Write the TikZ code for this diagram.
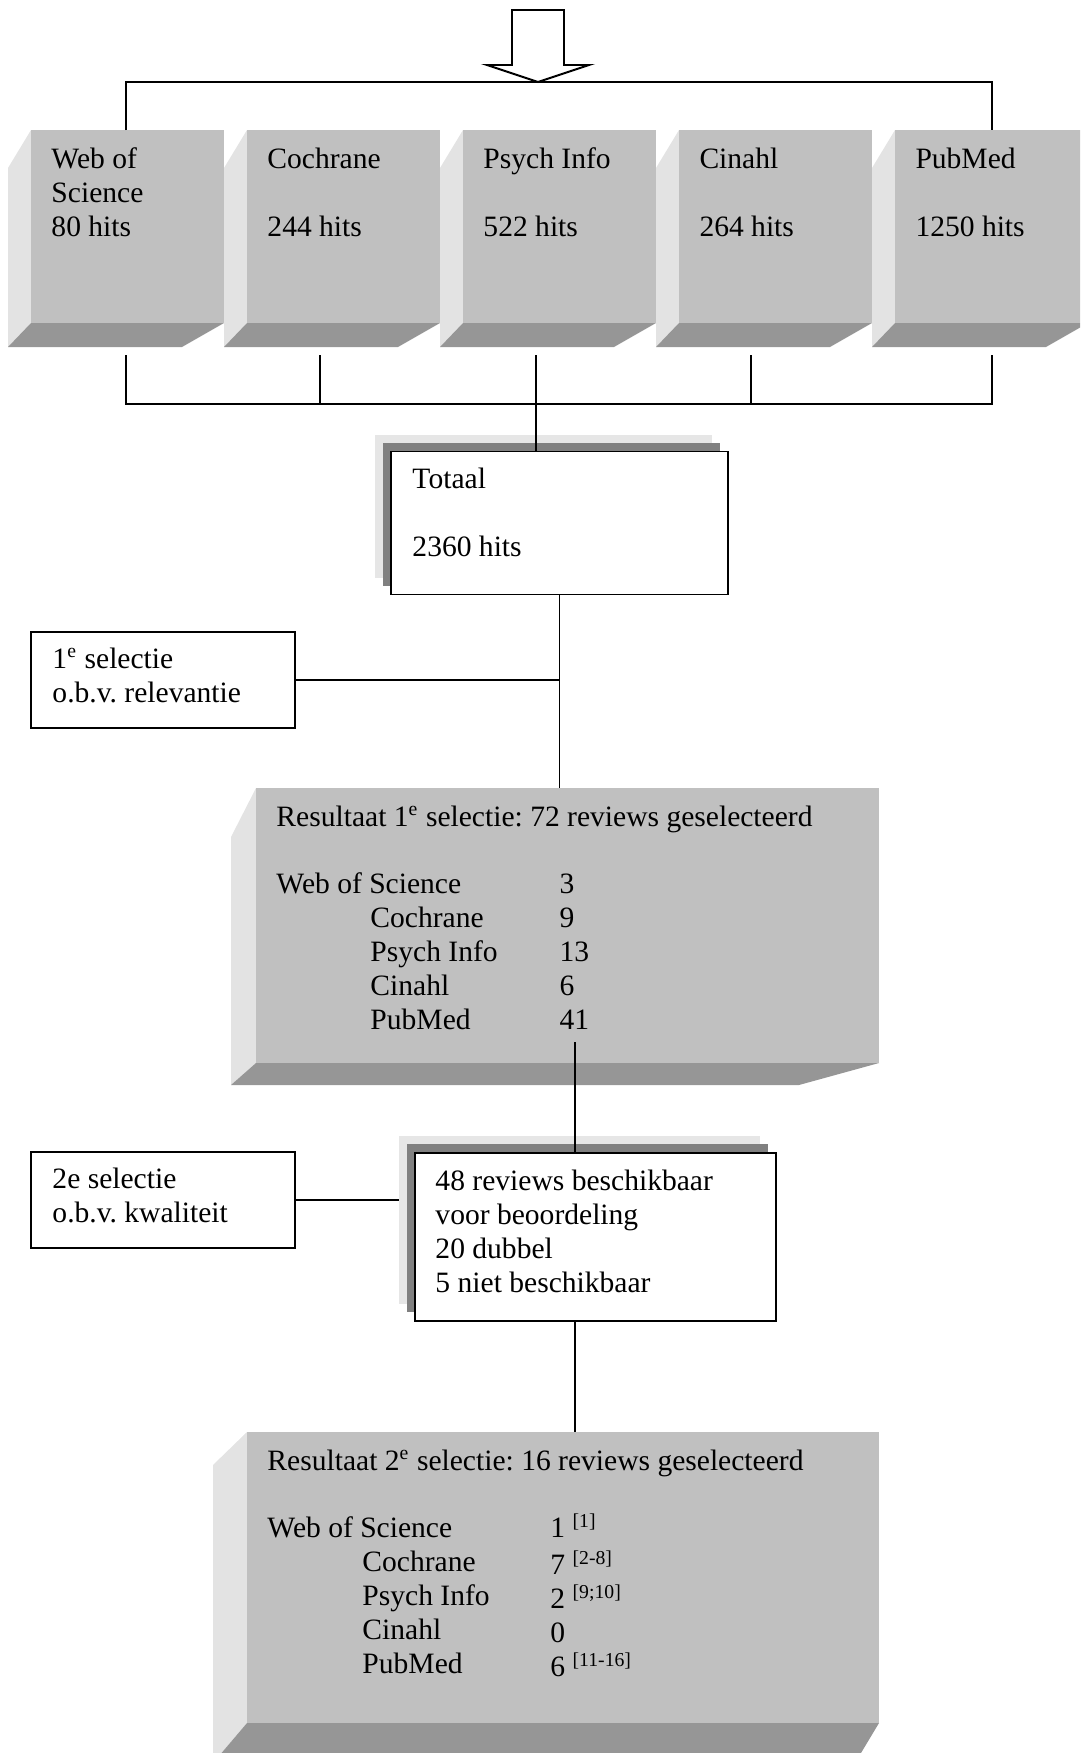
\documentclass[tikz,border=0pt]{standalone}
\usepackage{fontspec}
\setmainfont{Liberation Serif}
\usepackage{tikz}
\frenchspacing
\definecolor{frontgray}{RGB}{192,192,192}
\definecolor{sidegray}{RGB}{227,227,227}
\definecolor{basegray}{RGB}{150,150,150}
\definecolor{shadelight}{RGB}{230,230,230}
\definecolor{shadedark}{RGB}{128,128,128}
\def\px{0.406pt}
\def\tfront{rectangle ++(193,193)}
\def\tleft{-- ++(-23,38) -- ++(0,179) -- ++(23,-24) -- cycle}
\def\tbottom{-- ++(193,0) -- ++(-42,24) -- ++(-174,0) -- cycle}
\def\blockarrow{-- ++(-51,-17) -- ++(25,0) -- ++(0,-55) -- ++(52,0) -- ++(0,55) -- ++(25,0) -- cycle}
\def\dline{\draw[conn]}
\tikzset{
  conn/.style={line width=0.8pt},
  txt/.style={anchor=north west, inner sep=0pt, align=left, font=\fontsize{12}{13.8}\selectfont},
  boxsize/.style 2 args={minimum width=#1*\px, minimum height=#2*\px, inner sep=0pt, outer sep=0pt},
  whitebox/.style={draw, line width=0.8pt, fill=white},
  lightbox/.style={fill=shadelight},
  darkbox/.style={fill=shadedark},
  frontface/.style={fill=frontgray},
  leftface/.style={fill=sidegray},
  bottomface/.style={fill=basegray}
}

\begin{document}
\begin{tikzpicture}[x=0.406pt, y=-0.406pt]
  \useasboundingbox (0,0) rectangle (1080,1753);
  \clip (0,0) rectangle (1080,1753);

  % databases
  \foreach \x in {31,247,463,679,895}{
    \fill[leftface] (\x,130) \tleft;
    \fill[bottomface] (\x,323) \tbottom;
    \fill[frontface] (\x,130) \tfront;
  }
  \node[txt] (wos) at (51,144) {\strut Web of\\Science\\80 hits};
  \node[txt] (coch) at (267,144) {\strut Cochrane\\[13.8pt]244 hits};
  \node[txt] (psy) at (483,144) {\strut Psych Info\\[13.8pt]522 hits};
  \node[txt] (cin) at (699,144) {\strut Cinahl\\[13.8pt]264 hits};
  \node[txt] (pub) at (915,144) {\strut PubMed\\[13.8pt]1250 hits};

  \coordinate (t1) at (126,130);
  \coordinate (t5) at (992,130);
  \coordinate (tip) at (538,82);
  \dline (t1) |- (tip) -| (t5);
  \draw[conn, fill=white] (tip) \blockarrow;

  \foreach \s/\x in {s1/126,s2/320,s3/536,s4/751,s5/992}
    \coordinate (\s) at (\x,355);
  \coordinate (bar) at (536,404);
  \dline (s1) |- (bar) -| (s5);
  \dline (s2) -- (s2 |- bar);
  \dline (s4) -- (s4 |- bar);

  % totaal
  \node[lightbox, boxsize={337}{143}] (totL) at (543.5,506) {};
  \node[darkbox, boxsize={337}{143}] (totD) at ([shift={(8,8.5)}]totL.center) {};
  \node[whitebox, boxsize={337}{143}] (tot) at ([shift={(8,8.5)}]totD.center) {};
  \node[txt] (totT) at (412,464) {\strut Totaal\\[13.8pt]2360 hits};
  \dline (s3) -- (s3 |- tot.north);

  % 1e selectie
  \node[whitebox, boxsize={264}{96}] (sel1) at (163,680) {};
  \node[txt] (sel1T) at (52,644) {\strut 1\textsuperscript{e} selectie\\o.b.v. relevantie};
  \coordinate (j1) at (sel1.east -| tot.south);
  \coordinate (r1top) at (559,788);
  \dline (tot.south) -- (tot.south |- r1top);
  \dline (sel1.east) -- (j1);
  \draw[line width=1.1pt] ([shift={(-48,0)}]j1) -- ([shift={(-23,0)}]j1);

  % resultaat 1
  \fill[leftface] (256,788) -- (231,837) -- (231,1085) -- (256,1063) -- cycle;
  \fill[bottomface] (256,1063) -- (879,1063) -- (799,1085) -- (231,1085) -- cycle;
  \fill[frontface] (256,788) rectangle (879,1063);
  \node[txt] (r1head) at (276,802) {\strut Resultaat 1\textsuperscript{e} selectie: 72 reviews geselecteerd};
  \node[txt] (r1wos) at (276,869) {\strut Web of Science};
  \node[txt] (r1db) at (370,903) {\strut Cochrane\\Psych Info\\Cinahl\\PubMed};
  \node[txt] (r1n) at (559,869) {\strut 3\\9\\13\\6\\41};

  % 2e selectie
  \node[lightbox, boxsize={361}{168}] (beschL) at (579.5,1219.5) {};
  \node[darkbox, boxsize={361}{168}] (beschD) at ([shift={(8,8.5)}]beschL.center) {};
  \node[whitebox, boxsize={361}{168}] (besch) at ([shift={(8,8.5)}]beschD.center) {};
  \node[txt] (beschT) at (435,1166) {\strut 48 reviews beschikbaar\\voor beoordeling\\20 dubbel\\5 niet beschikbaar};
  \coordinate (r1out) at (575,1042);
  \dline (r1out) -- (r1out |- besch.north);

  \node[whitebox, boxsize={264}{96}] (sel2) at (163,1200) {};
  \node[txt] (sel2T) at (52,1164) {\strut 2e selectie\\o.b.v. kwaliteit};
  \dline (sel2.east) -- (sel2.east -| beschL.west);

  % resultaat 2
  \coordinate (r2top) at (575,1432);
  \dline (r2top |- besch.south) -- (r2top);
  \fill[leftface] (247,1432) -- (213,1465) -- (213,1763) -- (247,1723) -- cycle;
  \fill[bottomface] (247,1723) -- (879,1723) -- (855,1763) -- (213,1763) -- cycle;
  \fill[frontface] (247,1432) rectangle (879,1723);
  \node[txt] (r2head) at (267,1446) {\strut Resultaat 2\textsuperscript{e} selectie: 16 reviews geselecteerd};
  \node[txt] (r2wos) at (267,1513) {\strut Web of Science};
  \node[txt] (r2db) at (362,1547) {\strut Cochrane\\Psych Info\\Cinahl\\PubMed};
  \node[txt] (r2n) at (550,1513) {\strut 1 \textsuperscript{[1]}\\7 \textsuperscript{[2-8]}\\2 \textsuperscript{[9;10]}\\0\\6 \textsuperscript{[11-16]}};
\end{tikzpicture}
\end{document}
